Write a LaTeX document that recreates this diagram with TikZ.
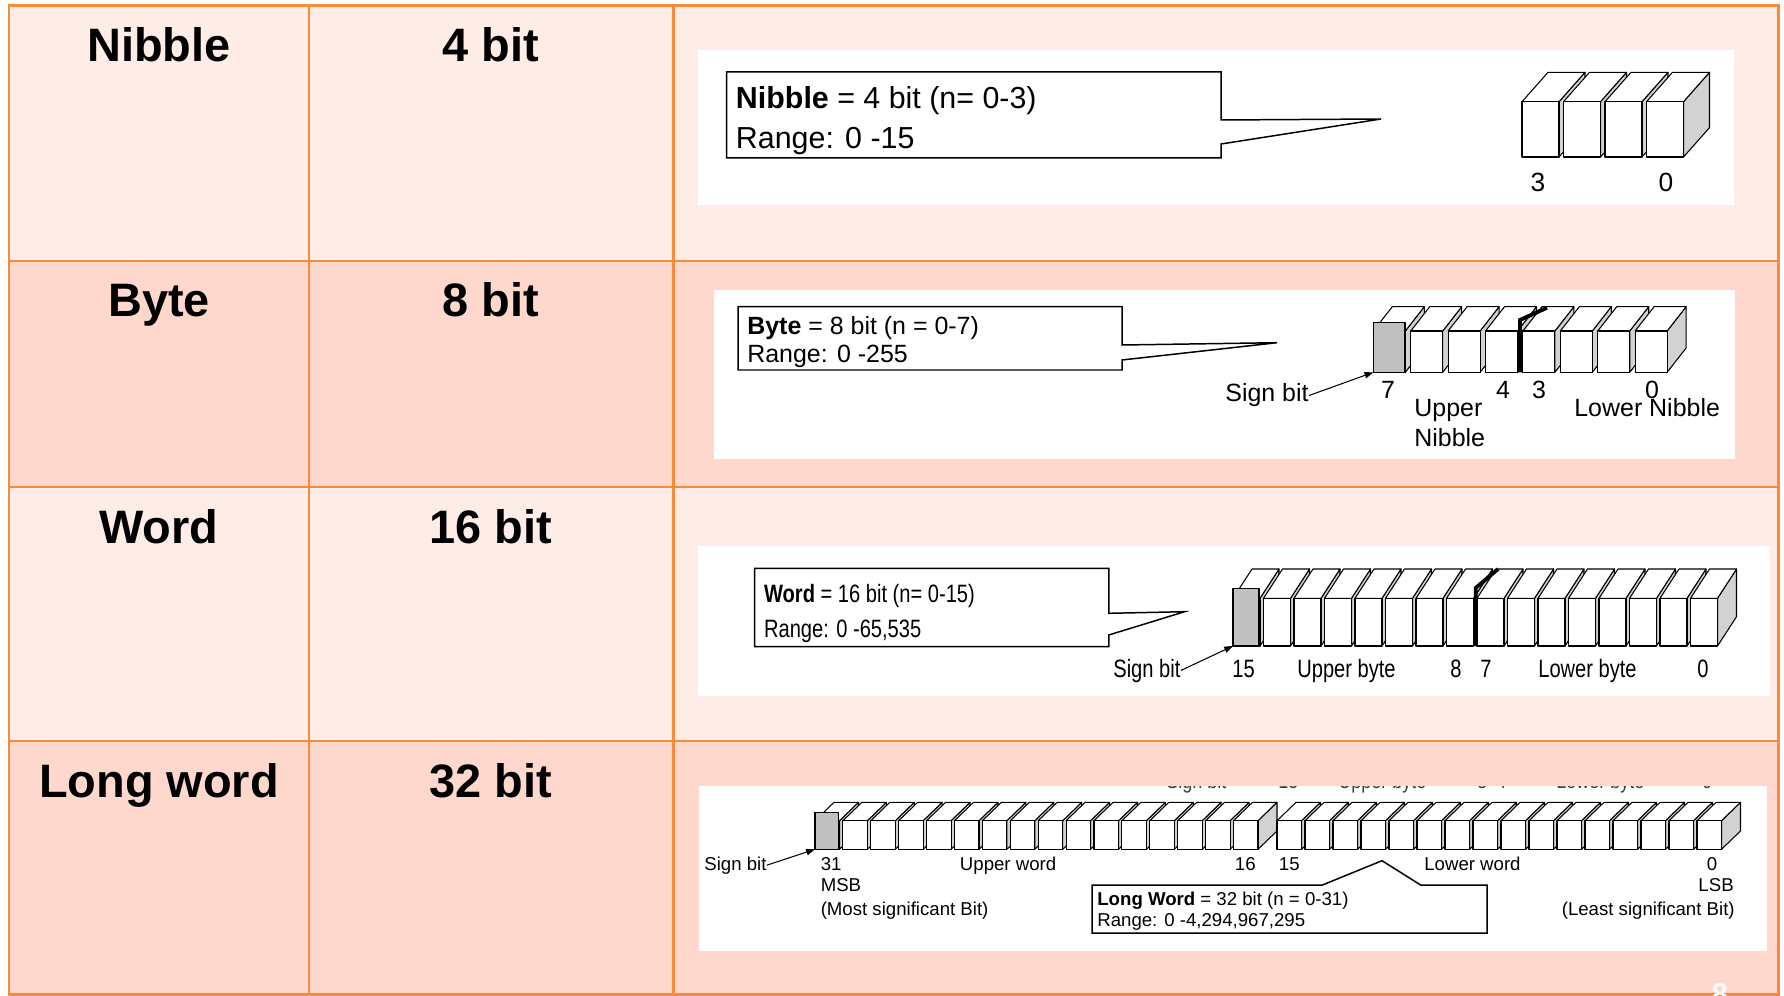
\documentclass[tikz,border=0pt]{standalone}
\usepackage{fontspec}
\setmainfont{Liberation Sans}
\newfontfamily\narrowfont[FakeStretch=0.8]{Liberation Sans}
\usetikzlibrary{arrows.meta}

\definecolor{tblorange}{HTML}{F68B3A}
\definecolor{rowlight}{HTML}{FEECE6}
\definecolor{rowdark}{HTML}{FED8CD}
\definecolor{cubeside}{HTML}{D2D2D2}
\definecolor{signgrey}{HTML}{C0C0C0}

\tikzset{
  grid/.style={draw=tblorange, line width=1.7pt},
  hdr/.style={anchor=base, inner sep=0, font=\bfseries\fontsize{26.7}{30}\selectfont},
  txt/.style={anchor=base west, inner sep=0},
  num/.style={anchor=base, inner sep=0},
  callout/.style={draw=black, fill=white, line width=0.85pt, line join=miter},
  bitcube/.style={draw=black, line width=0.6pt, line join=round},
  sepline/.style={draw=black, line width=2.2pt},
  signarrow/.style={-{Triangle[length=5pt,width=3.6pt]}, line width=0.6pt},
  fone/.style={font=\fontsize{17.3}{20}\selectfont},
  ftwo/.style={font=\fontsize{14.2}{17}\selectfont},
  fthree/.style={font=\narrowfont\fontsize{14.3}{17}\selectfont},
  ffour/.style={font=\fontsize{10.6}{12}\selectfont},
  fcut/.style={font=\narrowfont\fontsize{12.8}{15}\selectfont, text=black!75}
}

% #1 x of first front, #2 front top, #3 bottom, #4 count, #5 pitch, #6 width, #7 dx, #8 dy
\newcommand{\bitcubes}[8]{%
  \foreach \k in {1,...,#4}{%
    \pgfmathsetmacro{\xl}{#1+(\k-1)*#5}%
    \pgfmathsetmacro{\xr}{\xl+#6}%
    \draw[bitcube, fill=cubeside] (\xr,#2) -- ++(#7,-#8) -- ++(0,#3-#2) -- (\xr,#3) -- cycle;
    \draw[bitcube, fill=white] (\xl,#2) -- (\xr,#2) -- ++(#7,-#8) -- ++(-#6,0) -- cycle;
    \draw[bitcube, fill=white] (\xl,#2) rectangle (\xr,#3);
  }}

\begin{document}
\begin{tikzpicture}[x=0.02cm, y=-0.02cm]
  \useasboundingbox (0,0) rectangle (1784,996);

  % table
  \fill[rowlight] (9,6) rectangle (1778,261);
  \fill[rowdark] (9,261) rectangle (1778,487);
  \fill[rowlight] (9,487) rectangle (1778,741);
  \fill[rowdark] (9,741) rectangle (1778,994);
  \draw[grid] (9,6) rectangle (1778,994);
  \foreach \y in {261,487,741} \draw[grid] (9,\y) -- (1778,\y);
  \foreach \x in {309,673} \draw[grid] (\x,6) -- (\x,994);

  \node[hdr] (tnib) at (159,62) {Nibble};
  \node[hdr] (snib) at (491,62) {4 bit};
  \node[hdr] (tbyte) at (159,317) {Byte};
  \node[hdr] (sbyte) at (491,317) {8 bit};
  \node[hdr] (tword) at (159,543) {Word};
  \node[hdr] (sword) at (491,543) {16 bit};
  \node[hdr] (tlong) at (159,797) {Long word};
  \node[hdr] (slong) at (491,797) {32 bit};

  % nibble
  \fill[white] (698,50) rectangle (1734,204.6);
  \draw[callout] (726.5,72) -- (1221,72) -- (1221,120) -- (1381,119) -- (1221,144) -- (1221,158) -- (726.5,158) -- cycle;
  \node[txt, fone] (dnib) at (735.6,109) {\textbf{Nibble} = 4 bit (n= 0-3)};
  \node[txt, fone] (rnib) at (735.6,149) {Range: 0 -15};
  \bitcubes{1522}{101.7}{157}{4}{41.5}{37}{26}{29.4}
  \node[num, font=\fontsize{15}{18}\selectfont] (nib3) at (1538,191.7) {3};
  \node[num, font=\fontsize{15}{18}\selectfont] (nib0) at (1666,191.7) {0};

  % byte
  \fill[white] (713.5,290) rectangle (1735,458.7);
  \draw[callout] (738,306.7) -- (1122,306.7) -- (1122,345) -- (1277,342.7) -- (1122,360) -- (1122,370) -- (738,370) -- cycle;
  \node[txt, ftwo] (dbyte) at (747,335) {\textbf{Byte} = 8 bit (n = 0-7)};
  \node[txt, ftwo] (rbyte) at (747,363) {Range: 0 -255};
  \bitcubes{1373.3}{331}{372.3}{8}{37.4}{32}{19}{24.3}
  \draw[bitcube, fill=signgrey] (1373.3,322.3) rectangle (1405,372.3);
  \coordinate (sbyte) at (1373.3,372.3);
  \draw[sepline] (1520,372.3) -- (1520,320) -- (1547,307.7);
  \node[txt, ftwo] (gbyte) at (1225,402) {Sign bit};
  \draw[signarrow] (gbyte.east) -- (sbyte);
  \node[num, ftwo] (byte7) at (1388,399) {7};
  \node[num, ftwo] (byte4) at (1503,399) {4};
  \node[num, ftwo] (byte3) at (1539,399) {3};
  \node[num, ftwo] (byte0) at (1652,399) {0};
  \node[txt, ftwo] (ubyte) at (1414,416.5) {Upper};
  \node[txt, ftwo] (ubyteb) at (1414,447) {Nibble};
  \node[txt, ftwo] (lbyte) at (1574,416.5) {Lower Nibble};

  % word
  \fill[white] (698,546) rectangle (1770,695.7);
  \draw[callout] (754.5,568.3) -- (1108.8,568.3) -- (1108.8,613.3) -- (1184.6,611.7) -- (1108.8,635) -- (1108.8,646.7) -- (754.5,646.7) -- cycle;
  \node[txt, fthree] (dword) at (763.7,602) {\textbf{Word} = 16 bit (n= 0-15)};
  \node[txt, fthree] (rword) at (763.7,637) {Range: 0 -65,535};
  \bitcubes{1233}{598.3}{646}{16}{30.5}{27}{19}{29.3}
  \draw[bitcube, fill=signgrey] (1233,588.3) rectangle (1259,646);
  \coordinate (sword) at (1233,646);
  \draw[sepline] (1475.7,646) -- (1475.7,588) -- (1498,569);
  \node[txt, fthree] (gword) at (1113,677) {Sign bit};
  \draw[signarrow] (gword.east) -- (sword);
  \node[txt, fthree] (word15) at (1232,677) {15};
  \node[txt, fthree] (uword) at (1297,677) {Upper byte};
  \node[num, fthree] (word8) at (1456,677) {8};
  \node[num, fthree] (word7) at (1486,677) {7};
  \node[txt, fthree] (lword) at (1538,677) {Lower byte};
  \node[num, fthree] (word0) at (1703,677) {0};

  % long word
  \fill[white] (698.7,786) rectangle (1767,951);
  \begin{scope}
    \clip (698.7,786) rectangle (1767,951);
    \node[txt, fcut] (cg) at (1166,788.6) {Sign bit};
    \node[txt, fcut] (c15) at (1278,788.6) {15};
    \node[txt, fcut] (cu) at (1338,788.6) {Upper byte};
    \node[num, fcut] (c8) at (1482,788.6) {8};
    \node[num, fcut] (c7) at (1504,788.6) {7};
    \node[txt, fcut] (cl) at (1556,788.6) {Lower byte};
    \node[num, fcut] (c0) at (1707,788.6) {0};
  \end{scope}
  \bitcubes{815}{820.7}{849.3}{16}{27.9}{24.5}{19}{18.4}
  \bitcubes{1277}{820.7}{849.3}{16}{28}{24.5}{19}{18.4}
  \draw[bitcube, fill=signgrey] (815,812.7) rectangle (838.5,849.3);
  \coordinate (slong) at (815,849.3);
  \node[txt, ffour] (glong) at (704,870) {Sign bit};
  \draw[signarrow] (glong.east) -- (slong);
  \node[txt, ffour] (long31) at (820.4,870) {31};
  \node[txt, ffour] (msb) at (820.4,891.7) {MSB};
  \node[txt, ffour] (msbt) at (820.4,915) {(Most significant Bit)};
  \node[txt, ffour] (ulong) at (959.6,870) {Upper word};
  \node[txt, ffour] (long16) at (1234.6,870) {16};
  \node[txt, ffour] (long15) at (1278.6,870) {15};
  \node[txt, ffour] (llong) at (1424,870) {Lower word};
  \node[num, ffour] (long0) at (1712,870) {0};
  \node[anchor=base east, inner sep=0, ffour] (lsb) at (1734,891.7) {LSB};
  \node[anchor=base east, inner sep=0, ffour] (lsbt) at (1735,915) {(Least significant Bit)};
  \draw[callout] (1092,885) -- (1322.4,885) -- (1382,860.7) -- (1420.6,885) -- (1487,885) -- (1487,933) -- (1092,933) -- cycle;
  \node[txt, ffour] (dlong) at (1097,905) {\textbf{Long Word} = 32 bit (n = 0-31)};
  \node[txt, ffour] (rlong) at (1097,926.7) {Range: 0 -4,294,967,295};

  \node[num, text=white, font=\bfseries\fontsize{17}{20}\selectfont] (page) at (1720,1004) {8};
\end{tikzpicture}
\end{document}
